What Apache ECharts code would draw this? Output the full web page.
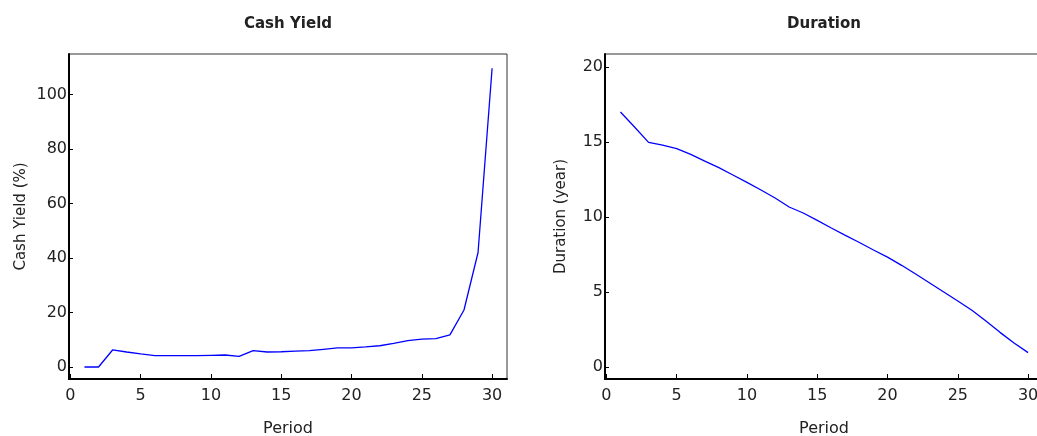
<!DOCTYPE html>
<html>
<head>
<meta charset="utf-8">
<script src="https://cdn.jsdelivr.net/npm/echarts@6/dist/echarts.min.js"></script>
<style>
html,body{margin:0;padding:0;background:#fff;}
#chart{width:1037px;height:436px;}
</style>
</head>
<body>
<div id="chart"></div>
<script>
const periods = [1,2,3,4,5,6,7,8,9,10,11,12,13,14,15,16,17,18,19,20,21,22,23,24,25,26,27,28,29,30];
const cashYield = [0,0,6.25,5.5,4.8,4.2,4.2,4.2,4.2,4.3,4.4,3.9,6.0,5.5,5.6,5.8,6.0,6.5,7.0,7.0,7.35,7.8,8.7,9.7,10.2,10.4,11.8,20.9,42.0,109.6];
const duration = [17.0,16.0,14.98,14.8,14.56,14.18,13.73,13.29,12.8,12.31,11.8,11.27,10.67,10.27,9.78,9.27,8.78,8.3,7.8,7.33,6.78,6.2,5.6,5.0,4.4,3.78,3.07,2.31,1.6,0.96];
const xTicks = [0,5,10,15,20,25,30];
const cashTicks = [0,20,40,60,80,100];
const durTicks = [0,5,10,15,20];

const FONT = 'DejaVu Sans';
const TXT = '#222';

function xAxis(gi){
  return {
    type:'value', gridIndex:gi, min:-0.1, max:31.06,
    name:'Period', nameLocation:'middle', nameGap:42,
    nameTextStyle:{fontFamily:FONT,fontSize:16,color:TXT},
    axisLine:{onZero:false,lineStyle:{color:'#000',width:2}},
    axisTick:{inside:true,length:5,customValues:xTicks,lineStyle:{color:'#000',width:1}},
    axisLabel:{customValues:xTicks,fontFamily:FONT,fontSize:16,color:TXT,margin:9},
    splitLine:{show:false}
  };
}
function yAxis(gi,name,mn,mx,ticks,gap){
  return {
    type:'value', gridIndex:gi, min:mn, max:mx,
    name:name, nameLocation:'middle', nameGap:gap,
    nameTextStyle:{fontFamily:FONT,fontSize:15,color:TXT},
    axisLine:{onZero:false,lineStyle:{color:'#000',width:2}},
    axisTick:{inside:true,length:4,customValues:ticks,lineStyle:{color:'#000',width:1}},
    axisLabel:{customValues:ticks,fontFamily:FONT,fontSize:16,color:TXT,margin:2},
    splitLine:{show:false}
  };
}

const chart = echarts.init(document.getElementById('chart'), null, {renderer:'canvas'});
chart.setOption({
  backgroundColor:'#fff',
  animation:false,
  title:[
    {text:'Cash Yield', left:288, top:17, padding:0, textAlign:'center',
     textStyle:{fontFamily:FONT,fontSize:15,fontWeight:'bold',color:TXT}},
    {text:'Duration', left:824, top:17, padding:0, textAlign:'center',
     textStyle:{fontFamily:FONT,fontSize:15,fontWeight:'bold',color:TXT}}
  ],
  grid:[
    {left:69, top:54, width:438, height:325, outerBoundsMode:'none', containLabel:false,
     show:true, borderColor:'#333', borderWidth:1, backgroundColor:'transparent'},
    {left:605, top:54, width:438, height:325, outerBoundsMode:'none', containLabel:false,
     show:true, borderColor:'#333', borderWidth:1, backgroundColor:'transparent'}
  ],
  xAxis:[xAxis(0), xAxis(1)],
  yAxis:[
    yAxis(0,'Cash Yield (%)',-4.4,114.8,cashTicks,40),
    yAxis(1,'Duration (year)',-0.8,20.87,durTicks,36)
  ],
  series:[
    {type:'line', xAxisIndex:0, yAxisIndex:0, data:periods.map((p,i)=>[p,cashYield[i]]),
     showSymbol:false, lineStyle:{color:'#0000ff',width:1.3}},
    {type:'line', xAxisIndex:1, yAxisIndex:1, data:periods.map((p,i)=>[p,duration[i]]),
     showSymbol:false, lineStyle:{color:'#0000ff',width:1.3}}
  ]
});
</script>
</body>
</html>
